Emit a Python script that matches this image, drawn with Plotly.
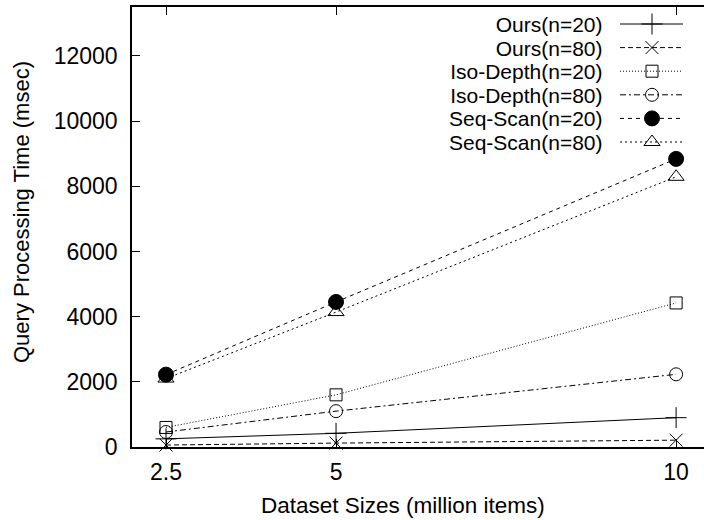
import plotly.graph_objects as go

# Dataset sizes (million items)
sizes = [2.5, 5, 10]

# Query processing time (msec) per method
ours_n20 = [250, 420, 900]
ours_n80 = [60, 120, 210]
iso_n20 = [600, 1600, 4420]
iso_n80 = [460, 1100, 2230]
seq_n20 = [2220, 4450, 8840]
seq_n80 = [2100, 4140, 8290]

series_names = ["Ours(n=20)", "Ours(n=80)", "Iso-Depth(n=20)",
                "Iso-Depth(n=80)", "Seq-Scan(n=20)", "Seq-Scan(n=80)"]
series_values = [ours_n20, ours_n80, iso_n20, iso_n80, seq_n20, seq_n80]

x_tick_vals = [2.5, 5, 10]
x_tick_text = ["2.5", "5", "10"]
y_tick_vals = [0, 2000, 4000, 6000, 8000, 10000, 12000]
y_tick_text = [str(v) for v in y_tick_vals]

FONT = "Liberation Sans, Arial, Helvetica, sans-serif"
FS = 23
KEY_FS = 21

styles = [
    dict(dash="solid", symbol="cross-thin-open", size=15),
    dict(dash="5px,3px", symbol="x-thin-open", size=13),
    dict(dash="1px,2px", symbol="square-open", size=12),
    dict(dash="6px,3px,2px,3px", symbol="circle-open", size=13),
    dict(dash="4px,4px", symbol="circle", size=15),
    dict(dash="2px,3px", symbol="triangle-up-open", size=14),
]

fig = go.Figure()

for name, vals, st in zip(series_names, series_values, styles):
    fig.add_trace(go.Scatter(
        x=sizes, y=vals, name=name, mode="lines+markers",
        line=dict(color="black", width=1, dash=st["dash"]),
        marker=dict(symbol=st["symbol"], size=st["size"], color="black",
                    line=dict(color="black", width=1)),
        showlegend=False, cliponaxis=False,
    ))

# Key drawn in pixel-like coordinates on an overlay axis pair:
# labels on the left, line samples with their markers on the right.
key_top = 24
key_step = 23.6
key_x0, key_x1, key_mid, key_text_right = 620, 683, 652, 605
for i, st in enumerate(styles):
    ky = key_top + i * key_step
    fig.add_trace(go.Scatter(
        x=[key_x0, key_x1], y=[ky, ky], mode="lines",
        line=dict(color="black", width=1, dash=st["dash"]),
        xaxis="x2", yaxis="y2", showlegend=False, hoverinfo="skip",
    ))
    fig.add_trace(go.Scatter(
        x=[key_mid], y=[ky], mode="markers",
        marker=dict(symbol=st["symbol"], size=st["size"], color="black",
                    line=dict(color="black", width=1)),
        xaxis="x2", yaxis="y2", showlegend=False, hoverinfo="skip",
    ))

# Key labels as one right-aligned block; the base font size sets the
# line pitch (1.3 em = key_step) while each line is drawn at KEY_FS.
base_fs = key_step / 1.3
key_text = "<br>".join(
    f'<span style="font-size:{KEY_FS}px">{n}</span>' for n in series_names)
annotations = [dict(
    text=key_text, align="right",
    x=key_text_right, y=key_top + 2.5 * key_step, xref="x2", yref="y2",
    xanchor="right", yanchor="middle", showarrow=False,
    font=dict(family=FONT, size=base_fs, color="black"),
)]

# Axis titles
annotations.append(dict(
    text="Dataset Sizes (million items)", x=(403 - 132) / 572, y=-58 / 440,
    xref="paper", yref="paper", xanchor="center", yanchor="middle",
    showarrow=False, font=dict(family=FONT, size=22.5, color="black"),
))
annotations.append(dict(
    text="Query Processing Time (msec)", x=(21 - 132) / 572, y=(447 - 212) / 440,
    xref="paper", yref="paper", xanchor="center", yanchor="middle",
    textangle=-90, showarrow=False,
    font=dict(family=FONT, size=22, color="black"),
))

axis_common = dict(
    showline=True, linecolor="black", linewidth=1.5,
    ticks="inside", ticklen=8, tickwidth=1, tickcolor="black",
    showgrid=False, zeroline=False,
    tickfont=dict(family=FONT, size=FS, color="black"),
)

fig.update_layout(
    width=704, height=520,
    margin=dict(l=132, r=0, t=7, b=73),
    paper_bgcolor="white", plot_bgcolor="white",
    font=dict(family=FONT, size=FS, color="black"),
    showlegend=False,
    xaxis=dict(range=[2, 10.41], tickvals=x_tick_vals, ticktext=x_tick_text,
               mirror="ticks", ticklabelstandoff=4, **axis_common),
    yaxis=dict(range=[0, 13500], tickvals=y_tick_vals, ticktext=y_tick_text,
               mirror=False, ticklabelstandoff=8, **axis_common),
    xaxis2=dict(range=[132, 704], overlaying="x", visible=False),
    yaxis2=dict(range=[447, 7], overlaying="y", visible=False),
    annotations=annotations,
)

fig.write_html("out.html")
